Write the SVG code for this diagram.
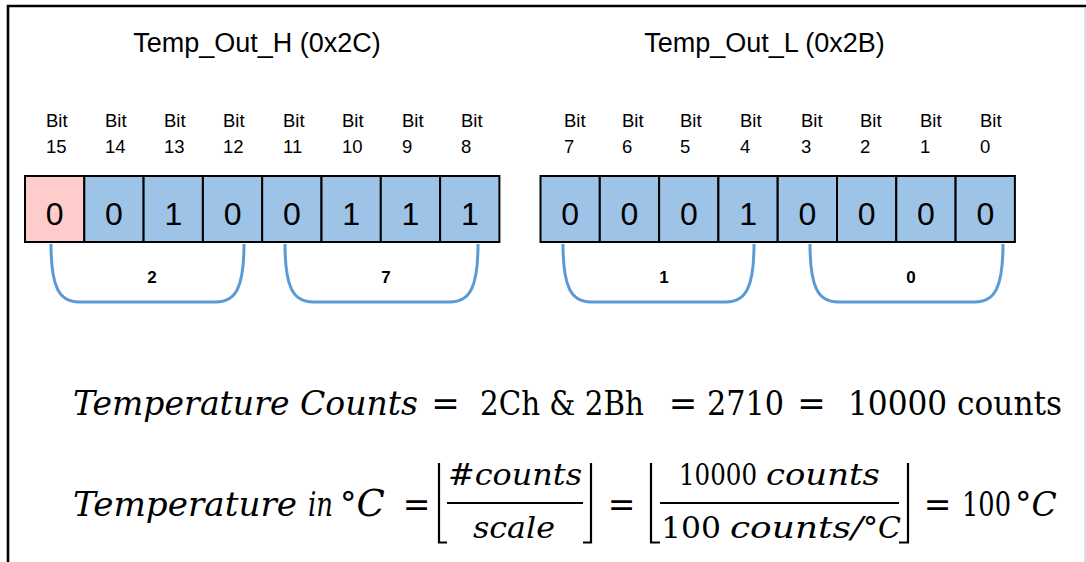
<svg xmlns="http://www.w3.org/2000/svg" width="1086" height="562" viewBox="0 0 1086 562">
<style>
.t{font-family:"Liberation Sans",Arial,sans-serif;fill:#000}
.title{font-size:27px;text-anchor:middle}
.bit{font-size:18.5px}
.cell{stroke:#000;stroke-width:2}
.blue{fill:#9DC3E6}
.pink{fill:#FFCCCC}
.dg{font-size:32px;text-anchor:middle}
.brace{fill:none;stroke:#5B9BD5;stroke-width:3}
.bl{font-size:17px;font-weight:bold;text-anchor:middle}
.m{font-family:"DejaVu Serif","Liberation Serif",serif;fill:#000}
.i{font-style:italic}
.eq{text-anchor:middle}
.br{fill:none;stroke:#000;stroke-width:2.2}
.bar{stroke:#000;stroke-width:2}
</style>
<rect width="1086" height="562" fill="#fff"/>
<g id="frame">
<path d="M8 562 L8 6 L1086 6" fill="none" stroke="#000" stroke-width="2.6"/>
<line x1="1085" y1="7" x2="1085" y2="562" stroke="#c8c8c8" stroke-width="1.2"/>
</g>
<g id="reg-high">
<text class="t title" x="257" y="52">Temp_Out_H (0x2C)</text>
<g class="t bit">
<text x="46" y="127">Bit</text><text x="46" y="153">15</text>
<text x="105" y="127">Bit</text><text x="105" y="153">14</text>
<text x="164" y="127">Bit</text><text x="164" y="153">13</text>
<text x="223" y="127">Bit</text><text x="223" y="153">12</text>
<text x="283" y="127">Bit</text><text x="283" y="153">11</text>
<text x="342" y="127">Bit</text><text x="342" y="153">10</text>
<text x="402" y="127">Bit</text><text x="402" y="153">9</text>
<text x="461" y="127">Bit</text><text x="461" y="153">8</text>
</g>
<rect class="cell pink" x="25" y="176" width="59.3" height="66"/>
<rect class="cell blue" x="84.3" y="176" width="59.3" height="66"/>
<rect class="cell blue" x="143.6" y="176" width="59.3" height="66"/>
<rect class="cell blue" x="202.9" y="176" width="59.3" height="66"/>
<rect class="cell blue" x="262.2" y="176" width="59.3" height="66"/>
<rect class="cell blue" x="321.5" y="176" width="59.3" height="66"/>
<rect class="cell blue" x="380.8" y="176" width="59.3" height="66"/>
<rect class="cell blue" x="440.1" y="176" width="59.3" height="66"/>
<g class="t dg">
<text x="54.7" y="225">0</text><text x="114" y="225">0</text><text x="173.3" y="225">1</text><text x="232.6" y="225">0</text>
<text x="291.9" y="225">0</text><text x="351.2" y="225">1</text><text x="410.5" y="225">1</text><text x="469.8" y="225">1</text>
</g>
</g>
<g id="reg-low">
<text class="t title" x="764.5" y="52">Temp_Out_L (0x2B)</text>
<g class="t bit">
<text x="564" y="127">Bit</text><text x="564" y="153">7</text>
<text x="622" y="127">Bit</text><text x="622" y="153">6</text>
<text x="680" y="127">Bit</text><text x="680" y="153">5</text>
<text x="740" y="127">Bit</text><text x="740" y="153">4</text>
<text x="801" y="127">Bit</text><text x="801" y="153">3</text>
<text x="860" y="127">Bit</text><text x="860" y="153">2</text>
<text x="920" y="127">Bit</text><text x="920" y="153">1</text>
<text x="980" y="127">Bit</text><text x="980" y="153">0</text>
</g>
<rect class="cell blue" x="540.5" y="176" width="59.3" height="66"/>
<rect class="cell blue" x="599.8" y="176" width="59.3" height="66"/>
<rect class="cell blue" x="659.1" y="176" width="59.3" height="66"/>
<rect class="cell blue" x="718.4" y="176" width="59.3" height="66"/>
<rect class="cell blue" x="777.7" y="176" width="59.3" height="66"/>
<rect class="cell blue" x="837" y="176" width="59.3" height="66"/>
<rect class="cell blue" x="896.3" y="176" width="59.3" height="66"/>
<rect class="cell blue" x="955.6" y="176" width="59.3" height="66"/>
<g class="t dg">
<text x="570.2" y="225">0</text><text x="629.5" y="225">0</text><text x="688.8" y="225">0</text><text x="748.1" y="225">1</text>
<text x="807.4" y="225">0</text><text x="866.7" y="225">0</text><text x="926" y="225">0</text><text x="985.3" y="225">0</text>
</g>
</g>
<g id="connectors">
<path class="brace" d="M51 244 C51 287 59 302 79 302 L216 302 C236 302 244 287 244 244"/>
<path class="brace" d="M285 244 C285 287 293 302 313 302 L450 302 C470 302 478 287 478 244"/>
<path class="brace" d="M563 244 C563 287 571 302 591 302 L726 302 C746 302 754 287 754 244"/>
<path class="brace" d="M810 244 C810 287 818 302 838 302 L975 302 C995 302 1003 287 1003 244"/>
<g class="t bl">
<text x="152" y="283">2</text><text x="386" y="283">7</text><text x="664" y="283">1</text><text x="911" y="283">0</text>
</g>
</g>
<g id="eq1" class="m" font-size="34">
<text class="i" x="73" y="415" textLength="345" lengthAdjust="spacingAndGlyphs">Temperature Counts</text>
<text class="eq" x="445.5" y="415">=</text>
<text x="480" y="415" textLength="164" lengthAdjust="spacingAndGlyphs">2Ch &amp; 2Bh</text>
<text class="eq" x="683" y="415">=</text>
<text x="707" y="415" textLength="77" lengthAdjust="spacingAndGlyphs">2710</text>
<text class="eq" x="811.5" y="415">=</text>
<text x="848" y="415" textLength="214" lengthAdjust="spacingAndGlyphs">10000 counts</text>
</g>
<g id="eq2" class="m" font-size="33">
<text class="i" x="73" y="516" textLength="224" lengthAdjust="spacingAndGlyphs">Temperature</text>
<text class="i" x="308" y="516" textLength="25" lengthAdjust="spacingAndGlyphs">in</text>
<text x="340" y="516">°<tspan class="i" font-size="37">C</tspan></text>
<text class="eq" x="416.5" y="516">=</text>
<path class="br" d="M439 463 L439 542.5 L447 542.5"/>
<text class="i" x="448" y="485" font-size="30" textLength="134" lengthAdjust="spacingAndGlyphs">#counts</text>
<line class="bar" x1="447" y1="503" x2="583" y2="503"/>
<text class="i" x="473" y="538" font-size="30" textLength="82" lengthAdjust="spacingAndGlyphs">scale</text>
<path class="br" d="M591 463 L591 542.5 L583 542.5"/>
<text class="eq" x="621.5" y="516">=</text>
<path class="br" d="M651 463 L651 542.5 L660 542.5"/>
<text x="679" y="485" font-size="30" textLength="78" lengthAdjust="spacingAndGlyphs">10000</text>
<text class="i" x="766" y="485" font-size="30" textLength="114" lengthAdjust="spacingAndGlyphs">counts</text>
<line class="bar" x1="660" y1="503" x2="899" y2="503"/>
<text x="661" y="538" font-size="30" textLength="60" lengthAdjust="spacingAndGlyphs">100</text>
<text class="i" x="730" y="538" font-size="30" textLength="133" lengthAdjust="spacingAndGlyphs">counts/</text>
<text x="863" y="538" font-size="30">°<tspan class="i">C</tspan></text>
<path class="br" d="M908 463 L908 542.5 L899 542.5"/>
<text class="eq" x="937.5" y="516">=</text>
<text x="962" y="516"><tspan textLength="49" lengthAdjust="spacingAndGlyphs">100</tspan><tspan x="1015">°</tspan><tspan class="i">C</tspan></text>
</g>
</svg>
